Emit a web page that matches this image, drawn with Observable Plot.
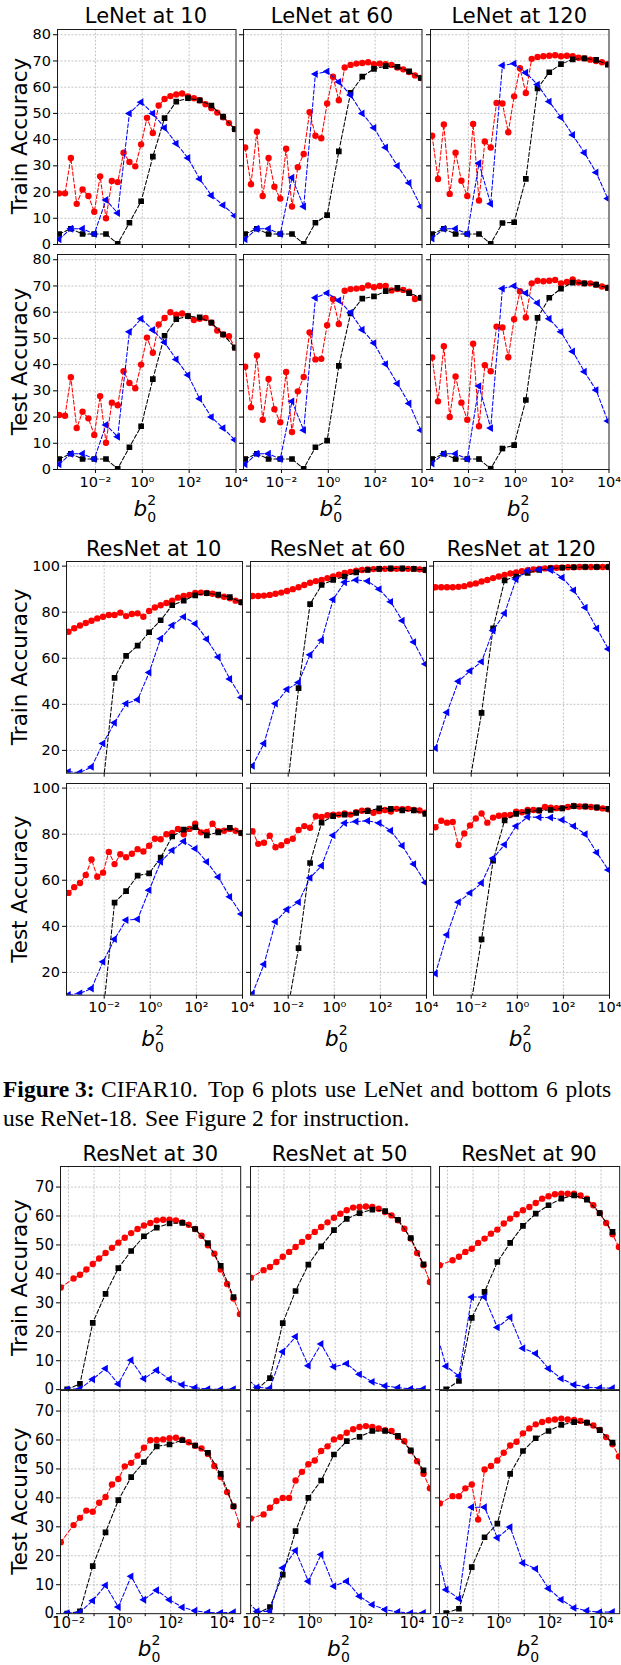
<!DOCTYPE html>
<html><head><meta charset="utf-8">
<script src="https://cdn.jsdelivr.net/npm/d3@7"></script>
<script src="https://cdn.jsdelivr.net/npm/@observablehq/plot@0.6"></script>
<style>
html,body{margin:0;padding:0;background:#fff;}
#root{position:relative;width:621px;height:1665px;overflow:hidden;background:#fff;}
#root svg.panel{position:absolute;}
</style></head><body><div id="root"></div>
<script>
// ---------- x grids (exponents of b0^2) ----------
const xRedTop = [-3.55,-3.3,-3.05,-2.8,-2.55,-2.3,-2.05,-1.8,-1.55,-1.3,-1.05,-0.8,-0.55,-0.3,-0.05,0.2,0.45,0.7,0.95,1.2,1.45,1.7,1.95,2.2,2.45,2.7,2.95,3.2,3.45,3.7,3.95];
const xSparseTop = [-3.55,-3.05,-2.55,-2.05,-1.55,-1.05,-0.55,-0.05,0.45,0.95,1.45,1.95,2.45,2.95,3.45,3.95];
const xRedBot = [-2.3,-1.8,-1.55,-1.3,-1.05,-0.8,-0.55,-0.3,-0.05,0.2,0.45,0.7,0.95,1.2,1.45,1.7,1.95,2.2,2.45,2.7,2.95,3.2,3.45,3.7,3.95,4.2,4.45,4.7];
const xSparseBot = [-2.55,-2.05,-1.55,-1.05,-0.55,-0.05,0.45,0.95,1.45,1.95,2.45,2.95,3.45,3.95,4.45];

// ---------- LeNet ----------
const lenet10TrainRed = [19.5,19.5,33,15.5,21,18.5,12.5,26,10,24.2,23.8,35,31.5,29.8,38.2,48.3,42.5,53,55.5,56.6,57.2,57.6,56.5,55.8,55,53.5,52,50.3,48.5,46.3,44];
const lenet10TrainBlack = [4,6,4,4,4,0.3,8.3,16.5,33.5,48.2,54.5,55.8,55,53,48.8,44];
const lenet10TrainBlue = [2,6,6,4,17,12,50,54.3,50,44.5,38.5,33,25,18.7,15,11];
const lenet60TrainRed = [37,23,43,18.5,33,22,17.5,36.5,14.5,29.5,34.5,50.5,41.5,40.5,53.8,64,55,67.5,68.5,69,69.2,69.5,68.8,69,68.8,68.5,67.5,66.8,65.8,64.5,63.5];
const lenet60TrainBlack = [4,6,4,4,4,0.3,8.3,11.2,35.5,57.8,64,67,68,67.8,66,63.5];
const lenet60TrainBlue = [2,6,6,4,25.5,14.5,65,66,62,57,50,44.5,37,30,23.5,14.5];
const lenet120TrainRed = [41.5,25,45.8,19.3,35,24.3,18.5,46,16.8,39.3,37,54,53.8,42.8,56.5,67.2,57.8,70.8,71.5,71.8,72,72.2,71.8,72,71.8,71.2,71,70.5,70,69.5,68.8];
const lenet120TrainBlack = [4,6,4,4,4,0.3,8.2,8.5,25,59.5,65.7,68.8,70.6,71,70.4,68.6];
const lenet120TrainBlue = [2.3,6,6,4,31,15.5,68.3,69,65.5,61,54.5,48.5,41.8,35,27.5,17.5];
const lenet10TestRed = [20.8,20.5,35.2,15.8,22,19.5,13.2,28,10.2,25.5,24.5,37.5,33,31,40,50.3,44.5,55.3,57.8,60,59,59.5,58.5,57,57.5,57.8,56,53,51.5,50.8,46.5];
const lenet10TestBlack = [4,6,4,4,4,0.3,8.5,16.5,34.5,51,57.3,58.5,58,56,51.5,46.5];
const lenet10TestBlue = [2,6,6,4,17,12.5,52.5,57.5,53.2,48.5,42,36,27,20,15.8,11.3];
const lenet60TestRed = [39.2,23.7,43.5,19,34.5,23,18,37.2,14.3,29.8,35.3,52.3,42,42.2,55,65,55.5,68.2,68.8,69,69.2,70.2,69.5,70,70,68.3,68.8,68.5,67.8,65,65.5];
const lenet60TestBlack = [4,6,4,4,4,0.3,8.5,11,39.5,59.5,65.2,66,68,69.3,67.3,65.5];
const lenet60TestBlue = [2,6,6,4,26,15,65.5,67.3,64.5,59.8,53.3,48.2,40.2,32.8,25.2,15];
const lenet120TestRed = [42.7,26,47,20,35.5,25.5,19,48,16.5,39.8,37.5,54.5,54.2,42.8,57.3,68,58,71,72,71.8,72,72.3,71,71.5,72.5,71.3,71,71,70.5,69.8,69.3];
const lenet120TestBlack = [4,6,4,4,4,0.3,8,9.3,26.5,57.8,65.5,69,71.3,71,70.5,69.3];
const lenet120TestBlue = [2.3,6,6,4,31.8,15.8,69,70,67.3,63.5,57.5,52.5,45,37.3,30.3,18.5];

// ---------- ResNet (10 / 60 / 120) ----------
const res10TrainRed = [71.5,73,74.2,75.3,76.3,77.3,78,78.8,78.8,79.8,78.3,79.2,79.5,78,80.5,82,83,84,85,86.3,87,87.5,88.3,88.5,88.3,88,87.3,86.7,86,85,84.3];
const res10TrainBlack = [null,null,null,5,51.5,61,65.5,71.3,76.5,83,85,87.3,88.2,87.6,86.5,84.3];
const res10TrainBlue = [10.7,10.4,12.8,23,32,40.3,42,53.8,68.5,74.3,78,75,68.3,60.5,51,43];
const res60TrainRed = [87,87,87.2,87.5,88,88.5,89.2,90,90.8,91.8,92.8,93.5,94,94.8,95.5,96.3,97,97.5,98,98.3,98.5,98.7,98.8,98.8,98.8,98.8,98.8,98.8,98.8,98.6,98.3];
const res60TrainBlack = [null,null,null,2,47,83.5,91.8,94,95.5,97.3,98.3,98.8,99,99,98.8,98.4];
const res60TrainBlue = [13.3,23,40.3,46.5,49.5,61.5,67.8,85.5,93,94,93.5,90,84.5,76.3,67,57.5];
const res120TrainRed = [90.8,90.8,90.8,90.8,91,91.3,92,92.5,93.3,94,94.8,95.5,96.2,96.8,97.3,97.8,98.2,98.5,98.8,99,99.2,99.3,99.4,99.5,99.5,99.6,99.6,99.6,99.6,99.6,99.6];
const res120TrainBlack = [null,null,null,7,36.3,73,93.8,95.5,97,98.3,99,99.3,99.5,99.6,99.6,99.6];
const res120TrainBlue = [21,36.5,50,54.5,58.5,72,79.5,94.3,98,98.5,98.3,95,89.5,82,73,64];
const res10TestRed = [54.5,57,58.8,62.3,69,61.5,63.3,72.3,67,71.3,70,71.5,73.5,72.5,75,78,77.8,80,80.5,82.3,80,82.3,84.5,80.8,81,84.5,81.3,81.5,82.3,81.5,80.5];
const res10TestBlack = [null,null,null,2,50.3,55.3,62,63,69.8,79,82,83,79.5,80.8,82.8,80.5];
const res10TestBlue = [10.2,10.9,13,24.6,34.4,42.7,43.1,55.7,68,73,76.9,73.7,68,61.4,52.8,45.3];
const res60TestRed = [81.3,75.8,76.3,79.3,74.3,75.2,77,78,81.8,83.5,82.8,87.8,87.5,88.2,88.5,88.5,89,88.5,89.5,90.2,90.3,89.3,90,90.5,89.8,91,90.8,91,90.5,90.3,89.3];
const res60TestBlack = [null,null,null,2.2,30.5,67.5,85,87.8,88.5,89.2,90,91.2,91,90.3,90.3,88.8];
const res60TestBlue = [10.8,23.5,42,47.3,50.5,61,66.3,79.5,84.8,85.5,85.8,84.8,81.5,75,67,59];
const res120TestRed = [83,85.8,85,85.3,75.3,80.3,83.8,86.8,89,85,87.2,88,88.2,88.3,89.8,89.5,90.5,90.5,90.3,91.8,91.5,91.3,91.3,91.8,92.2,92,92,91.8,91.5,91.2,90.8];
const res120TestBlack = [null,null,null,3.7,34.3,68.5,86,88.8,89.8,90.3,90.5,91.2,92.2,92,91.6,91];
const res120TestBlue = [19.5,36.3,50.5,54.5,58.8,69.5,75.5,83.5,87.5,87.3,87.2,86.2,83.5,80,72,64.5];

// ---------- ResNet (30 / 50 / 90) ----------
const res30TrainRed = [35.3,38.4,39.7,41.5,43.4,45.3,47.2,49,50.8,52.5,54.1,55.5,56.7,57.6,58.5,58.7,58.7,58.5,57.8,57,55.5,53.2,49.9,47,41.5,36.5,31.5,26.1];
const res30TrainBlack = [null,0.1,2,23.1,33.1,42,47.9,53,56,57.4,57.6,55.5,50.6,42.8,32];
const res30TrainBlue = [null,0.1,0.3,3.6,7.3,2,10.2,3.8,6.7,3.6,1.7,0.7,0.2,0.1,0.2];
const res50TrainRed = [38.7,41.3,42.4,44.1,45.9,47.6,49.3,51,52.8,54.5,56.2,57.8,59.4,60.8,62,62.9,63.1,63.3,63.1,62.5,61.4,60.2,58.5,55.6,52.2,47.2,43,37.2];
const res50TrainBlack = [null,0.2,4,23,34.1,43.2,49.5,55.1,59,61,62.2,61.7,58.7,52.4,43.3];
const res50TrainBlue = [4.5,0.8,0.5,13.1,18.3,8.3,15.8,7.9,9,5.3,2.7,1.3,0.7,0.3,0.3];
const res90TrainRed = [43,44.7,45.9,47.6,48.7,50.7,52.2,53.9,55.3,57.4,59.1,60.6,62,63.1,64.5,66,66.8,67.5,67.7,67.7,67.7,67.1,66,63.7,61,57.6,53.7,49.3];
const res90TrainBlack = [null,0.1,3,24.8,33.8,44.1,50.7,56.6,60.8,63.7,66,67.1,65.6,61,54.5];
const res90TrainBlue = [23.3,8.1,4.7,32,32,21.5,25,14.3,12.5,7.3,3.8,1.7,0.9,0.6,0.5];
const res30TestRed = [24.7,30.6,33.1,35.6,35.2,38.3,40.3,44.6,46.5,50.9,52.1,54.6,57.3,59.9,60,60.2,60.6,60.8,60.1,59.2,58,57.1,55.2,51,47.2,42,37,30.6];
const res30TestBlack = [null,0,0.8,16.4,28.1,39.2,47.2,52.4,57.8,58.5,59.9,58.1,55.6,48.3,37.1];
const res30TestBlue = [null,0.2,0.5,4.5,9.8,2.3,12.9,4.8,8.1,4.8,2.2,1,0.4,0.3,0.5];
const res50TestRed = [32.9,34.3,36.6,38.9,40,40,46,49,51.6,52.9,56.2,57.8,60.2,61,62.5,63.7,64.5,64.8,64.5,64,63.4,63.1,61,59.6,56.2,52.7,48.3,43.3];
const res50TestBlack = [null,0,2.3,13.5,28.5,40,46,55,59.6,61.1,63.1,63.1,61.4,56.4,49.5];
const res50TestBlue = [5.2,0.8,0.8,15.8,21.8,11.2,20.4,9.5,11.2,6,3.1,1.4,0.6,0.2,0.3];
const res90TestRed = [38.1,40.6,40.6,43.3,44.6,32.5,49.8,51,52.9,55.6,58.1,59.4,62.3,64,65.4,66.2,66.8,67.1,67.4,67.1,66.9,66.6,66,65,63.5,61,58.5,54.3];
const res90TestBlack = [null,0.2,1.7,16.1,26.4,31.1,48.3,56.2,60.6,63.1,65.2,66.2,66,63.4,59.1];
const res90TestBlue = [27.1,8.3,5.2,36.8,36.8,26.2,29.9,17.5,15.5,8.7,4.8,2,1,0.5,0.6];

// ---------- labels ----------
const titlesA = ["LeNet at 10","LeNet at 60","LeNet at 120"];
const titlesB = ["ResNet at 10","ResNet at 60","ResNet at 120"];
const titlesC = ["ResNet at 30","ResNet at 50","ResNet at 90"];
const rowLabels = ["Train Accuracy","Test Accuracy"];
const tickLabels = {"-2":"10⁻²","0":"10⁰","2":"10²","4":"10⁴"};
const xLabelParts = ["b","0","2"];
const captionBold = "Figure 3:";
const captionLine1a = "CIFAR10.";
const captionLine1b = "Top 6 plots use LeNet and bottom 6 plots";
const captionLine2a = "use ReNet-18.";
const captionLine2b = "See Figure 2 for instruction.";

// ---------- layout ----------
const groups = [
  {cols:[56.7,242.7,430.0], W:178.5, rows:[28.5,254], H:215, xdom:[10**-3.62,1e4], ydom:[0,82],
   yticks:[0,10,20,30,40,50,60,70,80], ygrid:[10,20,30,40,50,60,70,80], xticks:[1e-2,1,1e2,1e4], xgrid:[1e-2,1,1e2],
   titles:titlesA, titleY:23, xlabY:516, xr:xRedTop, xb:xSparseTop, fs:14.5, xts:4, xtp:3,
   data:[[[lenet10TrainRed,lenet10TrainBlack,lenet10TrainBlue],[lenet10TestRed,lenet10TestBlack,lenet10TestBlue]],
         [[lenet60TrainRed,lenet60TrainBlack,lenet60TrainBlue],[lenet60TestRed,lenet60TestBlack,lenet60TestBlue]],
         [[lenet120TrainRed,lenet120TrainBlack,lenet120TrainBlue],[lenet120TestRed,lenet120TestBlack,lenet120TestBlue]]]},
  {cols:[65.7,249.5,433.3], W:176, rows:[561,783.3], H:211.7, xdom:[10**-3.635,1e4], ydom:[10.1,102],
   yticks:[20,40,60,80,100], ygrid:[20,40,60,80,100], xticks:[1e-2,1,1e2,1e4], xgrid:[1e-2,1,1e2],
   titles:titlesB, titleY:556, xlabY:1046, xr:xRedTop, xb:xSparseTop, fs:14.5, xts:4, xtp:3,
   data:[[[res10TrainRed,res10TrainBlack,res10TrainBlue],[res10TestRed,res10TestBlack,res10TestBlue]],
         [[res60TrainRed,res60TrainBlack,res60TrainBlue],[res60TestRed,res60TestBlack,res60TestBlue]],
         [[res120TrainRed,res120TrainBlack,res120TrainBlue],[res120TestRed,res120TestBlack,res120TestBlue]]]},
  {cols:[60.2,249.5,438.8], W:180.2, rows:[1166,1389.5], H:223.2, xdom:[10**-2.31,10**4.73], ydom:[0,77.1],
   yticks:[0,10,20,30,40,50,60,70], ygrid:[10,20,30,40,50,60,70], xticks:[1e-2,1e-1,1,10,1e2,1e3,1e4], xgrid:[1e-2,1e-1,1,10,1e2,1e3,1e4],
   titles:titlesC, titleY:1160.7, xlabY:1656, xr:xRedBot, xb:xSparseBot, fs:15, xts:3, xtp:1,
   data:[[[res30TrainRed,res30TrainBlack,res30TrainBlue],[res30TestRed,res30TestBlack,res30TestBlue]],
         [[res50TrainRed,res50TrainBlack,res50TrainBlue],[res50TestRed,res50TestBlack,res50TestBlue]],
         [[res90TrainRed,res90TrainBlack,res90TrainBlue],[res90TestRed,res90TestBlack,res90TestBlue]]]}
];

const triLeft = {draw(ctx, size){ const R = Math.sqrt(size/1.299); ctx.moveTo(-R,0); ctx.lineTo(R/2,-R*0.866); ctx.lineTo(R/2,R*0.866); ctx.closePath(); }};
const root = document.getElementById("root");
const toPts = (xs, ys) => xs.map((e,i)=>({x:10**e, y:ys[i]})).filter(d => d.y != null);
const fmt = d => tickLabels[String(Math.round(Math.log10(d)))] ?? "";

function panel(g, ci, ri){
  const [red, black, blue] = g.data[ci][ri];
  const R = toPts(g.xr, red), K = toPts(g.xb, black), B = toPts(g.xb, blue);
  const lo = {x:"x", y:"y", strokeWidth:1.05, strokeDasharray:"4,2.2", clip:true};
  const grid = {stroke:"#b5b5b5", strokeWidth:0.8, strokeDasharray:"2,1.6"};
  const svg = Plot.plot({
    width:g.W, height:g.H, margin:0,
    style:{fontFamily:"DejaVu Sans", fontSize:g.fs+"px", overflow:"visible", background:"transparent", color:"#000"},
    x:{type:"log", domain:g.xdom, ticks:g.xticks, tickFormat: ri===1 ? fmt : ()=>"", tickSize:g.xts, tickPadding:g.xtp, label:null},
    y:{domain:g.ydom, ticks:g.yticks, tickFormat: ci===0 ? (d=>String(d)) : ()=>"", tickSize:4, tickPadding:2.5, label:null},
    marks:[
      Plot.ruleY(g.ygrid, grid),
      Plot.ruleX(g.xgrid, grid),
      Plot.line(R, {...lo, stroke:"#ff0000"}),
      Plot.dot(R, {x:"x", y:"y", r:3.2, fill:"#ff0000", symbol:"circle", clip:true}),
      Plot.line(K, {...lo, stroke:"#000000"}),
      Plot.dot(K, {x:"x", y:"y", r:3.2, fill:"#000000", symbol:"square", clip:true}),
      Plot.line(B, {...lo, stroke:"#0000ff"}),
      Plot.dot(B, {x:"x", y:"y", r:2.9, fill:"#0000ff", symbol:triLeft, clip:true}),
      Plot.frame({stroke:"#1a1a1a", strokeWidth:1})
    ]
  });
  svg.classList.add("panel");
  svg.style.left = g.cols[ci]+"px";
  svg.style.top = g.rows[ri]+"px";
  svg.style.maxWidth = "none";
  root.appendChild(svg);
}
for (const g of groups) for (let c=0;c<3;c++) for (let r=0;r<2;r++) panel(g,c,r);

// ---------- text overlay ----------
const ov = d3.select(root).append("svg").attr("width",621).attr("height",1665)
  .style("position","absolute").style("left","0px").style("top","0px").style("pointer-events","none")
  .style("font-family","DejaVu Sans");
for (const g of groups){
  g.titles.forEach((t,i)=>{
    const cx = g.cols[i] + g.W/2;
    ov.append("text").attr("x",cx).attr("y",g.titleY).attr("text-anchor","middle").attr("font-size",21).text(t);
    const bx = cx - 12.5;
    ov.append("text").attr("x",bx).attr("y",g.xlabY).attr("font-size",21.5).attr("font-style","italic").text(xLabelParts[0]);
    ov.append("text").attr("x",bx+13.8).attr("y",g.xlabY+5.5).attr("font-size",14).text(xLabelParts[1]);
    ov.append("text").attr("x",bx+13.8).attr("y",g.xlabY-11.5).attr("font-size",14).text(xLabelParts[2]);
  });
  rowLabels.forEach((t,ri)=>{
    const cy = g.rows[ri] + g.H/2;
    ov.append("text").attr("transform",`translate(27,${cy}) rotate(-90)`).attr("text-anchor","middle").attr("font-size",21.5).text(t);
  });
}
const capFont = "Liberation Serif, Times New Roman, serif";
const capSize = 23.5;
ov.append("text").attr("x",3).attr("y",1097).attr("font-family",capFont).attr("font-size",capSize).attr("font-weight","bold").text(captionBold);
ov.append("text").attr("x",101).attr("y",1097).attr("font-family",capFont).attr("font-size",capSize).text(captionLine1a);
ov.append("text").attr("x",208).attr("y",1097).attr("font-family",capFont).attr("font-size",capSize).attr("word-spacing",1.8).text(captionLine1b);
ov.append("text").attr("x",3).attr("y",1126).attr("font-family",capFont).attr("font-size",capSize).text(captionLine2a);
ov.append("text").attr("x",145).attr("y",1126).attr("font-family",capFont).attr("font-size",capSize).text(captionLine2b);
</script></body></html>
